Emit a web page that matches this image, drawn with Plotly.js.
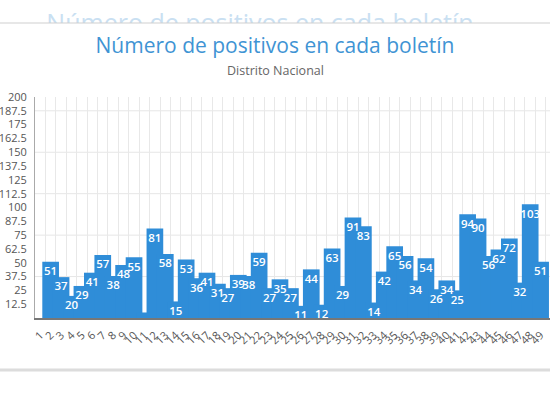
<!DOCTYPE html>
<html><head><meta charset="utf-8">
<script src="https://cdn.plot.ly/plotly-3.0.1.min.js"></script>
<style>html,body{margin:0;padding:0;background:#fff;overflow:hidden}#chart{width:550px;height:393px}</style>
</head><body><div id="chart"></div>
<script>
// ---- data ----
const categories = ["1","2","3","4","5","6","7","8","9","10","11","12","13","14","15","16","17","18","19","20","21","22","23","24","25","26","27","28","29","30","31","32","33","34","35","36","37","38","39","40","41","42","43","44","45","46","47","48","49"];
const positives = [null,51,37,20,29,41,57,38,48,55,5,81,58,15,53,36,41,31,27,39,38,59,27,35,27,11,44,12,63,29,91,83,14,42,65,56,34,54,26,34,25,94,90,56,62,72,32,103,51];
const valueLabels = ["","51","37","20","29","41","57","38","48","55","","81","58","15","53","36","41","31","27","39","38","59","27","35","27","11","44","12","63","29","91","83","14","42","65","56","34","54","26","34","25","94","90","56","62","72","32","103","51"];
const yTickVals = [12.5,25,37.5,50,62.5,75,87.5,100,112.5,125,137.5,150,162.5,175,187.5,200];
const yTickText = ["12.5","25","37.5","50","62.5","75","87.5","100","112.5","125","137.5","150","162.5","175","187.5","200"];
const yGridVals = [37.5,75,112.5,150,187.5];
const titleText = "Número de positivos en cada boletín";
const subtitleText = "Distrito Nacional";

// ---- layout helpers ----
const W = 550, H = 393;
const py = v => 1 - v / H;
const barColor = "#2f8dd8";
const font = "Open Sans, Noto Sans, sans-serif";

const traces = [
  {
    type: "bar", x: categories, y: positives, width: 1.6,
    marker: {color: barColor, line: {width: 0}},
    hoverinfo: "skip", showlegend: false
  },
  {
    type: "scatter", mode: "markers+text", x: categories, y: positives, text: valueLabels,
    textposition: "bottom center", cliponaxis: false,
    marker: {size: 6, color: "rgba(0,0,0,0)"},
    textfont: {family: font, size: 11.5, color: "#ffffff", weight: 600},
    hoverinfo: "skip", showlegend: false
  },
  {
    type: "scatter", mode: "text", x: [260], y: [-2.5], text: [titleText],
    xaxis: "x3", yaxis: "y3", textposition: "middle center", cliponaxis: true,
    textfont: {family: font, size: 25, color: "#c9e0f2"},
    hoverinfo: "skip", showlegend: false
  }
];

const shapes = yGridVals.map(v => ({
  type: "line", xref: "x domain", yref: "y", x0: 0, x1: 1, y0: v, y1: v,
  line: {color: "#e6e6e6", width: 1}, layer: "below"
}));
shapes.push({type: "line", xref: "paper", yref: "paper", x0: 0, x1: 1, y0: py(23), y1: py(23),
  line: {color: "#cfcfcf", width: 1}});
shapes.push({type: "line", xref: "paper", yref: "paper", x0: 0, x1: 1, y0: py(370), y1: py(370),
  line: {color: "#dcdcdc", width: 3}});

const layout = {
  width: W, height: H,
  margin: {l: 0, r: 0, t: 0, b: 0},
  paper_bgcolor: "#ffffff", plot_bgcolor: "#ffffff",
  font: {family: font, color: "#555"},
  title: {
    text: titleText, x: 275 / W, xanchor: "center", xref: "paper",
    y: py(46), yanchor: "middle", yref: "container",
    font: {family: font, size: 21, color: "#3f94d4"}
  },
  annotations: [{
    text: subtitleText, xref: "paper", yref: "paper", x: 275 / W, y: py(70),
    xanchor: "center", yanchor: "middle", showarrow: false,
    font: {family: font, size: 12.5, color: "#666"}
  }],
  xaxis: {
    type: "category", domain: [35 / W, 1], range: [-0.5, 48.9],
    tickmode: "array", tickvals: categories, ticktext: categories,
    tickson: "boundaries", showgrid: true, gridcolor: "#e8e8e8", gridwidth: 1,
    showline: true, linecolor: "#777", linewidth: 1.5,
    ticks: "", tickangle: -45, ticklabelstandoff: 5,
    tickfont: {family: font, size: 11, color: "#555"},
    fixedrange: true, zeroline: false
  },
  yaxis: {
    domain: [py(318), py(97)], range: [0, 200],
    tickmode: "array", tickvals: yTickVals, ticktext: yTickText,
    showgrid: false, zeroline: false,
    showline: true, linecolor: "#aaa", linewidth: 1,
    ticks: "", ticklabelstandoff: 5,
    tickfont: {family: font, size: 11, color: "#555"}, fixedrange: true
  },
  xaxis3: {domain: [0, 1], range: [0, W], visible: false, fixedrange: true},
  yaxis3: {domain: [py(23), 1], range: [0, 23], visible: false, fixedrange: true},
  shapes: shapes,
  showlegend: false
};

Plotly.newPlot("chart", traces, layout, {displayModeBar: false, staticPlot: true});
</script>
</body></html>
